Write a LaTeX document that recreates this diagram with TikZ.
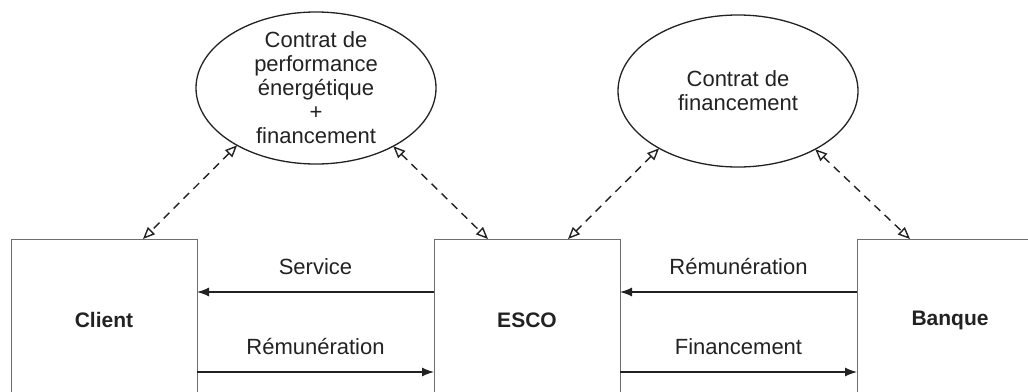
\documentclass[tikz,border=0pt]{standalone}
\usepackage{fontspec}
\setmainfont{Liberation Sans}
\usetikzlibrary{arrows.meta,positioning,shapes.geometric}
\definecolor{boxgray}{HTML}{6E6E6E}
\definecolor{inkblack}{HTML}{222222}

\begin{document}
\begin{tikzpicture}[
  x=1pt, y=-1pt,
  party/.style={rectangle, draw=boxgray, line width=1pt, minimum width=186pt, minimum height=162pt, inner sep=0pt, outer sep=0pt, font=\fontsize{21}{24}\selectfont\bfseries, text=inkblack},
  contract/.style={ellipse, draw=inkblack, line width=1.3pt, minimum width=240pt, minimum height=152pt, inner sep=0pt, outer sep=0pt},
  contracttext/.style={align=center, font=\fontsize{22}{24}\selectfont, text=inkblack, inner sep=0pt},
  flowlabel/.style={font=\fontsize{22}{24}\selectfont, text=inkblack, inner sep=0pt},
  flowarrow/.style={-{Latex[length=12pt,width=9pt]}, line width=1.3pt, draw=inkblack},
  linkarrow/.style={{Triangle[open,length=12pt,width=10pt]}-{Triangle[open,length=12pt,width=10pt]}, line width=1.4pt, draw=inkblack, dash pattern=on 8pt off 6pt}
]
  \clip (0,0) rectangle (1028,391);

  % Parties (cut off at the bottom edge)
  \node[party] (client) at (104,320) {Client};
  \node[party, right=237pt of client] (esco) {ESCO};
  \node[party, right=237pt of esco] (banque) {Banque};

  % Contracts
  \node[contract] (cpe) at (316,88) {};
  \node[contracttext] (cpetext) at (cpe.center) {Contrat de\\performance\\énergétique\\+\\financement};
  \node[contract] (cfin) at (738,91) {};
  \node[contracttext] (cfintext) at (cfin.center) {Contrat de\\financement};

  % Contract links
  \draw[linkarrow] (cpe.216) -- ([xshift=39pt]client.north);
  \draw[linkarrow] (cpe.323) -- ([xshift=-39pt]esco.north);
  \draw[linkarrow] (cfin.216) -- ([xshift=41pt]esco.north);
  \draw[linkarrow] (cfin.323) -- ([xshift=-40pt]banque.north);

  % Flows
  \draw[flowarrow] ([yshift=28pt]esco.west) -- node[flowlabel, above=17pt] {Service} ([yshift=28pt]client.east);
  \draw[flowarrow] ([yshift=-52pt]client.east) -- node[flowlabel, above=17pt] {Rémunération} ([yshift=-52pt]esco.west);
  \draw[flowarrow] ([yshift=28pt]banque.west) -- node[flowlabel, above=17pt] {Rémunération} ([yshift=28pt]esco.east);
  \draw[flowarrow] ([yshift=-52pt]esco.east) -- node[flowlabel, above=17pt] {Financement} ([yshift=-52pt]banque.west);
\end{tikzpicture}
\end{document}
